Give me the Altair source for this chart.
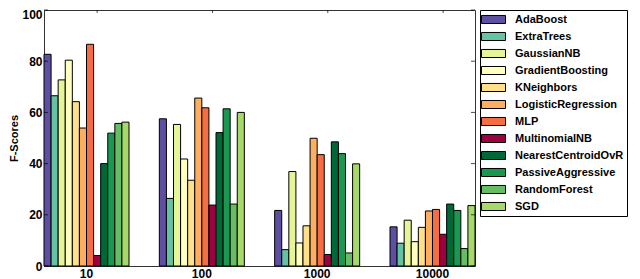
import altair as alt
import pandas as pd

FONT = "Liberation Sans"

sizes = ["10", "100", "1000", "10000"]
classifiers = ["AdaBoost", "ExtraTrees", "GaussianNB", "GradientBoosting", "KNeighbors",
               "LogisticRegression", "MLP", "MultinomialNB", "NearestCentroidOvR",
               "PassiveAggressive", "RandomForest", "SGD"]
colors = ["#5e4fa2", "#66c2a5", "#e6f598", "#ffffbf", "#fee08b", "#fdae61",
          "#f46d43", "#9e0142", "#006837", "#1a9850", "#66bd63", "#a6d96a"]

ada_boost = [82.7, 57.5, 21.7, 15.3]
extra_trees = [66.5, 26.4, 6.4, 8.9]
gaussian_nb = [72.7, 55.3, 36.9, 17.9]
gradient_boosting = [80.4, 41.8, 9.0, 9.5]
k_neighbors = [64.2, 33.5, 15.7, 15.1]
logistic_regression = [53.9, 65.6, 49.9, 21.5]
mlp = [86.6, 61.8, 43.5, 22.1]
multinomial_nb = [4.1, 23.8, 4.5, 12.4]
nearest_centroid = [40.0, 52.1, 48.5, 24.2]
passive_aggressive = [51.9, 61.4, 43.9, 21.7]
random_forest = [55.7, 24.2, 5.1, 6.8]
sgd = [56.2, 60.0, 39.9, 23.6]

series = [ada_boost, extra_trees, gaussian_nb, gradient_boosting, k_neighbors,
          logistic_regression, mlp, multinomial_nb, nearest_centroid,
          passive_aggressive, random_forest, sgd]

y_ticks = [0, 20, 40, 60, 80, 100]

rows = []
for clf, vals in zip(classifiers, series):
    for s, v in zip(sizes, vals):
        rows.append({"size": s, "clf": clf, "score": v})
df = pd.DataFrame(rows)

W = 431
H = 256

legend_symbol = "M-2,-0.67L2,-0.67L2,0.67L-2,0.67Z"

bars = alt.Chart(df).mark_bar(stroke="black", strokeWidth=1, opacity=1).encode(
    x=alt.X("size:N", sort=sizes,
            scale=alt.Scale(paddingInner=0.263, paddingOuter=0),
            axis=alt.Axis(title=None, labelAngle=0, ticks=False, domain=False,
                          labelFontSize=12, labelFontWeight="bold", labelFont=FONT,
                          labelColor="black", labelPadding=2)),
    xOffset=alt.XOffset("clf:N", sort=classifiers,
                        scale=alt.Scale(paddingInner=0, paddingOuter=0)),
    y=alt.Y("score:Q", scale=alt.Scale(domain=[0, 100], nice=False),
            axis=alt.Axis(title="F-Scores", values=y_ticks, ticks=False, domain=False,
                          grid=False, labelFontSize=12, labelFontWeight="bold",
                          labelFont=FONT, labelColor="black", labelPadding=2,
                          labelBaseline=alt.condition("datum.value == 100",
                                                      alt.value("top"), alt.value("middle")),
                          labelOffset=alt.condition("datum.value == 100",
                                                    alt.value(-1), alt.value(0)),
                          titleFont=FONT, titleFontSize=11, titleFontWeight="bold",
                          titleColor="black", titlePadding=2)),
    color=alt.Color("clf:N", sort=classifiers,
                    scale=alt.Scale(domain=classifiers, range=colors),
                    legend=alt.Legend(title=None, orient="none", legendX=W + 5, legendY=0,
                                      strokeColor="black", fillColor="white", padding=3,
                                      symbolOffset=4,
                                      symbolType=legend_symbol, symbolSize=144,
                                      symbolStrokeColor="black", symbolStrokeWidth=1,
                                      symbolOpacity=1,
                                      labelFont=FONT, labelFontSize=11,
                                      labelFontWeight="bold", labelColor="black",
                                      labelOffset=15, rowPadding=4, labelLimit=300)),
)

tick_df = pd.DataFrame({"v": y_ticks})
left_ticks = alt.Chart(tick_df).mark_tick(color="black", size=4, thickness=1).encode(
    y="v:Q", x=alt.value(2))
right_ticks = alt.Chart(tick_df).mark_tick(color="black", size=4, thickness=1).encode(
    y="v:Q", x=alt.value(W - 2))

top_df = pd.DataFrame({"size": sizes})
top_ticks = alt.Chart(top_df).mark_tick(color="black", size=3, thickness=1,
                                        orient="vertical").encode(
    x=alt.X("size:N", sort=sizes),
    xOffset=alt.XOffsetDatum("MultinomialNB"),
    y=alt.value(1.5))

chart = alt.layer(bars, left_ticks, right_ticks, top_ticks).properties(
    width=W, height=H,
    padding={"left": 0, "top": 0, "right": 0, "bottom": 0},
    background="white",
).configure_view(stroke="#333333", strokeWidth=1)

chart.save("out.html", embed_options={"renderer": "svg", "actions": False})
